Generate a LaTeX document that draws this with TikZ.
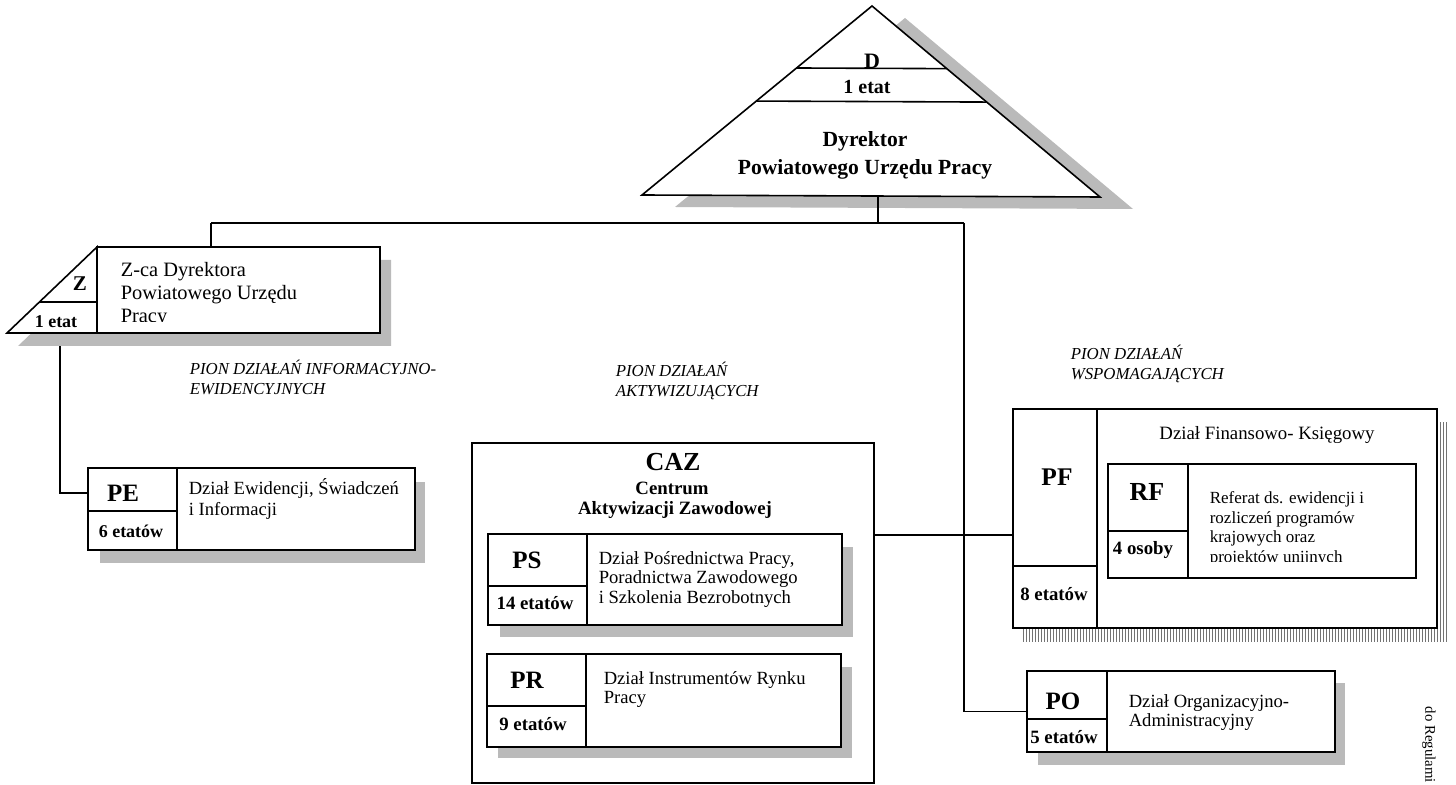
\documentclass[tikz,border=0pt]{standalone}
\usepackage{fontspec}
\setmainfont{Liberation Serif}
\usetikzlibrary{fit,calc,patterns.meta}
\begin{document}
\begin{tikzpicture}[x=0.5pt,y=-0.5pt,line width=0.8pt,
  shd/.style={fill=black!27,draw=none},
  hatch/.style={pattern={Lines[angle=90,distance=1.5pt,line width=0.5pt]},pattern color=black!55,draw=none},
  box/.style={draw,fill=white,inner sep=0pt},
  cd/.style={font=\fontsize{12.5}{15}\selectfont\bfseries,inner sep=0pt},
  et/.style={font=\fontsize{9.4}{11}\selectfont\bfseries,inner sep=0pt},
  ttl/.style={font=\fontsize{10.8}{13}\selectfont\bfseries,inner sep=0pt},
  ds/.style={font=\fontsize{9.3}{9.6}\selectfont,align=left,anchor=north west,inner sep=0pt},
  pn/.style={font=\fontsize{8.4}{10}\selectfont\itshape,align=left,anchor=north west,inner sep=0pt}]
\useasboundingbox (0,0) rectangle (1456,785);

% ---------- connector end points ----------
\coordinate (Dbase) at (878,196);
\coordinate (J) at (878,223);
\coordinate (lx) at (211,223);
\coordinate (rx) at (964,223);
\coordinate (zb) at (60,333);
\coordinate (pein) at (88,493);

% connector Z -> PE (drawn under the shadow)
\draw (zb) |- (pein);

% ---------- shadows ----------
\fill[shd] (675,207) -- (905,18) -- (1133,209) -- cycle;
\fill[shd] (18,346) -- (108,260) -- (391,260) -- (391,346) -- cycle;
\fill[shd] (100,482) rectangle (425,563);
\fill[shd] (500,547) rectangle (853,637);
\fill[shd] (498,667) rectangle (852,758);
\fill[hatch] (1023,423) rectangle (1447,641);
\fill[shd] (1120,477) rectangle (1426,588);
\fill[shd] (1038,683) rectangle (1345,765);

% D triangle
\draw[fill=white] (642,195) coordinate (DL) -- (872,6) coordinate (DA) -- (1100,197) coordinate (DR) -- cycle;
\draw ($(DL)!0.672!(DA)$) -- ($(DR)!0.672!(DA)$);
\draw ($(DL)!0.497!(DA)$) -- ($(DR)!0.497!(DA)$);
\node[cd,font=\fontsize{11}{13}\selectfont\bfseries] (Dcode) at (872,61) {D};
\node[et,font=\fontsize{10}{12}\selectfont\bfseries] (Detat) at (867,87) {1 etat};
\node[ttl] (Dt1) at (865,141) {Dyrektor};
\node[ttl] (Dt2) at (865,169) {Powiatowego Urzędu Pracy};

% Z
\node[box,fit={(97,247)(380,333)}] (Z) {};
\draw[fill=white] (7,333) -- (97,247) -- (97,333) -- cycle;
\draw (39.5,302) -- (97,302);
\node[cd,font=\fontsize{10.5}{13}\selectfont\bfseries] (Zcode) at (80,284) {Z};
\node[et,font=\fontsize{9}{11}\selectfont\bfseries] (Zetat) at (56,322) {1 etat};
\begin{scope}
\clip (100,250) rectangle (378,322);
\node[ds,font=\fontsize{10.2}{11.5}\selectfont] (Zdesc) at (120,262) {Z-ca Dyrektora\\Powiatowego Urzędu\\Pracy};
\end{scope}

% PE
\node[box,fit={(88,468)(415,550)}] (PE) {};
\draw (177,468) -- (177,550);
\draw (88,511) -- (177,511);
\node[cd] (PEcode) at (123,493) {PE};
\node[et,font=\fontsize{9}{11}\selectfont\bfseries] (PEetat) at (131,531) {6 etatów};
\node[ds,font=\fontsize{9.3}{10.5}\selectfont] (PEdesc) at (188,478) {Dział Ewidencji, Świadczeń\\i Informacji};

% CAZ
\node[box,fit={(472,443)(874,783)}] (CAZ) {};
\node[cd,font=\fontsize{13}{15}\selectfont\bfseries] (CAZcode) at (673,462) {CAZ};
\node[et] (CAZt1) at (672,488) {Centrum};
\node[et] (CAZt2) at (675,510) {Aktywizacji Zawodowej};

% PS
\fill[shd] (500,547) rectangle (853,637);
\node[box,fit={(488,534)(842,625)}] (PS) {};
\draw (587,534) -- (587,625);
\draw (488,586) -- (587,586);
\node[cd] (PScode) at (527,560) {PS};
\node[et] (PSetat) at (535,603) {14 etatów};
\node[ds] (PSdesc) at (598,551) {Dział Pośrednictwa Pracy,\\Poradnictwa Zawodowego\\i Szkolenia Bezrobotnych};

% PR
\fill[shd] (498,667) rectangle (852,758);
\node[box,fit={(487,654)(841,747)}] (PR) {};
\draw (586,654) -- (586,747);
\draw (487,706) -- (586,706);
\node[cd] (PRcode) at (527,680) {PR};
\node[et] (PRetat) at (533,724) {9 etatów};
\node[ds] (PRdesc) at (603,671) {Dział Instrumentów Rynku\\Pracy};

% PF
\node[box,fit={(1013,409)(1437,628)}] (PF) {};
\draw (1097,409) -- (1097,628);
\draw (1013,566) -- (1097,566);
\node[cd,font=\fontsize{12.7}{15}\selectfont\bfseries] (PFcode) at (1057,477) {PF};
\node[et] (PFetat) at (1054,594) {8 etatów};
\node[font=\fontsize{9.4}{11}\selectfont,inner sep=0pt] (PFdesc) at (1267,435) {Dział Finansowo- Księgowy};

% RF
\node[box,fit={(1108,464)(1416,578)}] (RF) {};
\draw (1188,464) -- (1188,578);
\draw (1108,531) -- (1188,531);
\node[cd,font=\fontsize{13}{15}\selectfont\bfseries] (RFcode) at (1147,492) {RF};
\node[et] (RFetat) at (1143,550) {4 osoby};
\begin{scope}
\clip (1190,466) rectangle (1414,562);
\node[ds,font=\fontsize{8.5}{9.8}\selectfont] (RFdesc) at (1209,491) {Referat ds. ewidencji i\\rozliczeń programów\\krajowych oraz\\projektów unijnych};
\end{scope}

% PO
\node[box,fit={(1027,671)(1335,752)}] (PO) {};
\draw (1107,671) -- (1107,752);
\draw (1027,719) -- (1107,719);
\node[cd] (POcode) at (1063,701) {PO};
\node[et] (POetat) at (1064,737) {5 etatów};
\node[ds,font=\fontsize{9.3}{9.2}\selectfont] (POdesc) at (1128,694) {Dział Organizacyjno-\\Administracyjny};

% ---------- connectors ----------
\draw (Dbase) -- (J);
\draw (lx) -- (rx);
\draw (lx) -- (lx |- Z.north);
\draw (rx) -- (rx |- PO.west) -- (PO.west);
\draw (CAZ.east |- 0,535) -- (PF.west |- 0,535);

% PION labels
\node[pn] (pion1) at (189,359) {PION DZIAŁAŃ INFORMACYJNO-\\EWIDENCYJNYCH};
\node[pn] (pion2) at (615,361) {PION DZIAŁAŃ\\AKTYWIZUJĄCYCH};
\node[pn] (pion3) at (1070,344) {PION DZIAŁAŃ\\WSPOMAGAJĄCYCH};

% side text
\node[font=\fontsize{7.4}{9}\selectfont,inner sep=0pt,rotate=-90] (side) at (1429,745) {do Regulami};
\end{tikzpicture}
\end{document}
